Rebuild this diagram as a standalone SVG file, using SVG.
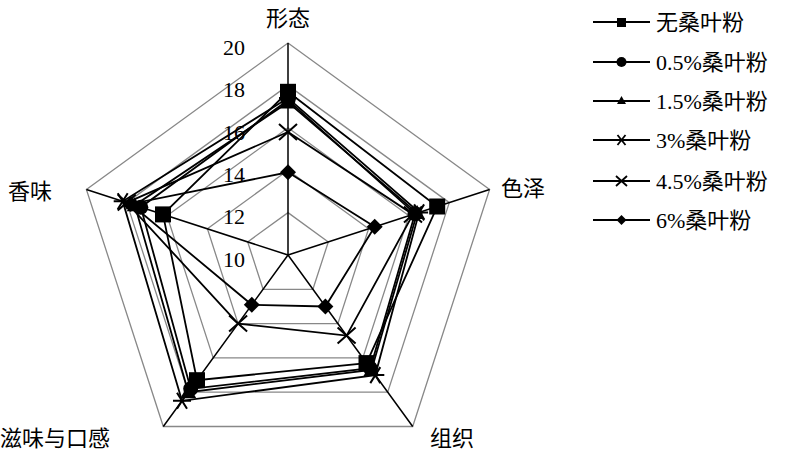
<svg xmlns="http://www.w3.org/2000/svg" width="800" height="455" viewBox="0 0 800 455">
<style>
.g{fill:none;stroke:#888;stroke-width:1.3}
.ax{stroke:#000;stroke-width:1.5}
.s{fill:none;stroke:#000;stroke-width:1.8}
.t{font-family:"Liberation Serif","Noto Sans CJK SC",serif;font-size:22px;fill:#000}
.c{font-family:"Liberation Serif","Noto Sans CJK SC",serif;font-size:22px;fill:#000}
</style>
<defs>
<rect id="sq" x="-8" y="-8" width="16" height="16"/>
<circle id="ci" r="7.5"/>
<path id="tr" d="M0,-8 L8,6 L-8,6Z"/>
<path id="as" d="M-9,0H9M-5,-8L5,8M5,-8L-5,8" stroke="#000" stroke-width="2"/>
<path id="xx" d="M-9,-8L9,8M9,-8L-9,8" stroke="#000" stroke-width="2"/>
<path id="di" d="M0,-8L8,0L0,8L-8,0Z"/>
</defs>
<g id="grid">
<polygon class="g" points="288,212.6 328.3,241.9 312.9,289.3 263.1,289.3 247.7,241.9"/>
<polygon class="g" points="288,170.2 368.6,228.8 337.9,323.6 238.1,323.6 207.4,228.8"/>
<polygon class="g" points="288,127.8 409.0,215.7 362.8,357.9 213.2,357.9 167.0,215.7"/>
<polygon class="g" points="288,85.4 449.3,202.6 387.7,392.2 188.3,392.2 126.7,202.6"/>
<polygon class="g" points="288,43 489.6,189.5 412.7,426.5 163.3,426.5 86.4,189.5"/>
<path class="ax" d="M288,255L288,43M288,255L489.6,189.5M288,255L412.7,426.5M288,255L163.3,426.5M288,255L86.4,189.5"/>
</g>
<g id="ticks" class="t" text-anchor="end">
<text x="245" y="55">20</text><text x="245" y="97">18</text><text x="245" y="140">16</text>
<text x="245" y="182">14</text><text x="245" y="224">12</text><text x="245" y="267">10</text>
</g>
<g id="axis-labels" class="c">
<text x="288" y="26" text-anchor="middle">形态</text>
<text x="501" y="196">色泽</text>
<text x="430" y="446">组织</text>
<text x="0" y="446">滋味与口感</text>
<text x="8" y="199">香味</text>
</g>
<g id="connectors">
<polygon class="s" points="288,91.8 437.2,206.5 366.5,363.1 197,380.2 163,214.4"/>
<polygon class="s" points="288,100.2 415,213.7 370.3,368.2 190.7,388.8 140.8,207.2"/>
<polygon class="s" points="288,102.4 417.1,213.1 371.5,369.9 188.3,392.2 134.8,205.2"/>
<polygon class="s" points="288,98.1 419.1,212.4 375.3,375.1 182,400.8 122.7,201.3"/>
<polygon class="s" points="288,132 413,214.4 346.6,335.6 238.1,323.6 126.7,202.6"/>
<polygon class="s" points="288,172.3 374.7,226.8 325.4,306.5 251.8,304.8 130.7,203.9"/>
</g>
<g id="s-none"><use href="#sq" x="288" y="91.8"/><use href="#sq" x="437.2" y="206.5"/><use href="#sq" x="366.5" y="363.1"/><use href="#sq" x="197" y="380.2"/><use href="#sq" x="163" y="214.4"/></g>
<g id="s-05"><use href="#ci" x="288" y="100.2"/><use href="#ci" x="415" y="213.7"/><use href="#ci" x="370.3" y="368.2"/><use href="#ci" x="190.7" y="388.8"/><use href="#ci" x="140.8" y="207.2"/></g>
<g id="s-15"><use href="#tr" x="288" y="102.4"/><use href="#tr" x="417.1" y="213.1"/><use href="#tr" x="371.5" y="369.9"/><use href="#tr" x="188.3" y="392.2"/><use href="#tr" x="134.8" y="205.2"/></g>
<g id="s-3"><use href="#as" x="288" y="98.1"/><use href="#as" x="419.1" y="212.4"/><use href="#as" x="375.3" y="375.1"/><use href="#as" x="182" y="400.8"/><use href="#as" x="122.7" y="201.3"/></g>
<g id="s-45"><use href="#xx" x="288" y="132"/><use href="#xx" x="413" y="214.4"/><use href="#xx" x="346.6" y="335.6"/><use href="#xx" x="238.1" y="323.6"/><use href="#xx" x="126.7" y="202.6"/></g>
<g id="s-6"><use href="#di" x="288" y="172.3"/><use href="#di" x="374.7" y="226.8"/><use href="#di" x="325.4" y="306.5"/><use href="#di" x="251.8" y="304.8"/><use href="#di" x="130.7" y="203.9"/></g>
<g id="legend" class="c">
<path class="s" d="M593,22H650M593,62H650M593,101H650M593,140H650M593,181H650M593,220H650"/>
<rect x="617" y="18" width="9" height="9"/>
<circle cx="621.5" cy="62" r="5"/>
<path d="M621.5,96L626,104H617Z"/>
<path d="M615,140H628M617.5,135L625.5,145M625.5,135L617.5,145" stroke="#000" stroke-width="1.8"/>
<path d="M616,176L627,186M627,176L616,186" stroke="#000" stroke-width="1.8"/>
<path d="M621.5,215L626.5,220L621.5,225L616.5,220Z"/>
<text x="656" y="30">无桑叶粉</text>
<text x="656" y="70">0.5%桑叶粉</text>
<text x="656" y="109">1.5%桑叶粉</text>
<text x="656" y="148">3%桑叶粉</text>
<text x="656" y="189">4.5%桑叶粉</text>
<text x="656" y="228">6%桑叶粉</text>
</g>
</svg>
